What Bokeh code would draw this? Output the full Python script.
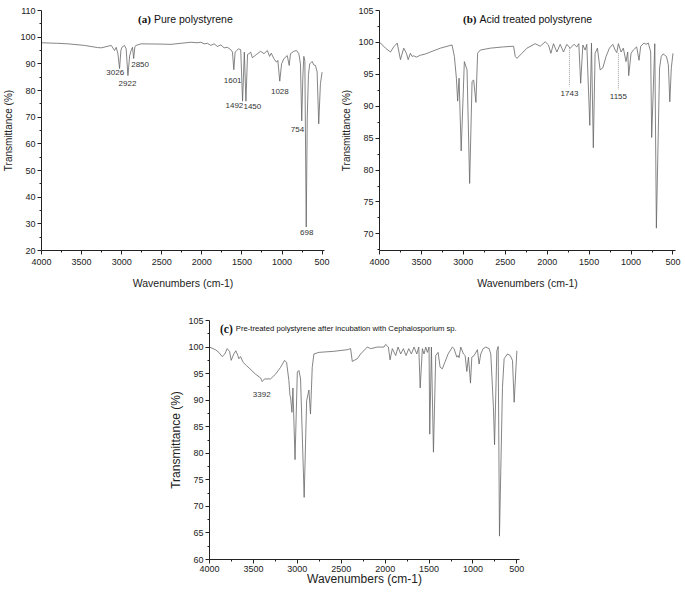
from bokeh.plotting import figure
from bokeh.layouts import row, column, Spacer
from bokeh.models import Range1d, FixedTicker
from bokeh.core.properties import value
from bokeh.embed import file_html
from bokeh.resources import INLINE

# ---------------- data ----------------
x_ticks = [4000, 3500, 3000, 2500, 2000, 1500, 1000, 500]
x_minor = [3750, 3250, 2750, 2250, 1750, 1250, 750]

# (a) Pure polystyrene
a_wn = [4000, 3800, 3668, 3462, 3300, 3255, 3130, 3089, 3068, 3047, 3026, 3010, 2997, 2965, 2944,
        2922, 2900, 2882, 2865, 2850, 2835, 2820, 2758, 2500, 2385, 2261, 2136, 2060, 2012, 1971,
        1929, 1888, 1847, 1805, 1764, 1722, 1681, 1639, 1618, 1601, 1585, 1544, 1515, 1492, 1470,
        1450, 1430, 1412, 1391, 1370, 1340, 1307, 1266, 1225, 1183, 1155, 1134, 1101, 1068, 1052,
        1028, 1005, 977, 935, 910, 894, 853, 819, 790, 770, 754, 740, 728, 715, 698, 685, 670, 654,
        624, 604, 583, 562, 542, 521, 500]
a_T = [97.9, 97.7, 97.5, 96.9, 96.1, 96.0, 96.9, 95.0, 96.2, 93.8, 88.2, 95.0, 96.2, 96.9, 95.6,
       85.6, 93.0, 95.0, 96.2, 92.0, 96.5, 96.9, 97.5, 97.4, 97.3, 97.7, 98.1, 97.9, 98.1, 97.5,
       97.7, 96.9, 97.5, 96.5, 97.1, 96.0, 96.2, 95.3, 94.4, 87.8, 94.4, 95.6, 95.3, 76.0, 94.4,
       76.0, 93.5, 93.8, 94.4, 92.3, 93.0, 93.8, 94.7, 93.8, 95.0, 92.8, 94.0, 91.9, 90.6, 91.3,
       83.5, 90.0, 91.9, 93.1, 89.4, 93.8, 94.7, 95.0, 93.8, 90.0, 68.6, 85.0, 92.8, 91.0, 28.8, 70.0, 86.0, 90.0,
       90.9, 89.6, 89.4, 87.0, 67.5, 82.5, 86.9]
a_labels = ["3026", "2922", "2850", "1601", "1492", "1450", "1028", "754", "698"]
a_lab_wn = [3080, 2927, 2770, 1616, 1594, 1370, 1027, 807, 692]
a_lab_T = [86.8, 82.7, 89.8, 83.6, 74.2, 74.1, 79.8, 65.5, 26.9]

# (b) Acid treated polystyrene
b_wn = [4000, 3988, 3929, 3869, 3830, 3789, 3750, 3711, 3679, 3658, 3631, 3610, 3592, 3560, 3512,
        3450, 3393, 3274, 3135, 3107, 3083, 3068, 3051, 3026, 2988, 2956, 2925, 2896, 2877, 2850,
        2830, 2798, 2679, 2520, 2401, 2381, 2361, 2301, 2242, 2143, 2083, 2024, 1985, 1956, 1925,
        1885, 1845, 1806, 1766, 1726, 1679, 1647, 1623, 1601, 1575, 1548, 1528, 1492, 1472, 1450,
        1429, 1401, 1369, 1337, 1298, 1258, 1218, 1190, 1170, 1151, 1119, 1092, 1060, 1040, 1028,
        1000, 973, 933, 905, 885, 845, 821, 794, 766, 754, 717, 698, 660, 640, 618, 598, 578, 555,
        538, 520, 500]
b_T = [100.0, 99.9, 99.1, 98.5, 99.3, 99.9, 97.3, 99.1, 98.3, 97.3, 98.3, 97.8, 97.9, 97.7, 98.0,
       98.2, 98.5, 99.1, 99.6, 97.8, 94.4, 90.8, 94.4, 83.0, 97.0, 95.7, 77.9, 93.9, 94.1, 90.6,
       98.3, 98.8, 99.1, 99.3, 99.4, 97.8, 97.5, 98.3, 99.1, 99.8, 99.4, 100.1, 99.6, 98.3, 99.8,
       98.5, 99.7, 98.5, 99.7, 99.1, 99.7, 99.3, 99.8, 93.6, 99.6, 98.8, 99.7, 87.0, 99.9, 83.5,
       98.3, 99.1, 95.7, 96.0, 97.8, 99.1, 99.7, 98.8, 98.4, 99.8, 98.5, 99.1, 97.0, 98.5, 94.8,
       98.3, 98.8, 99.3, 97.2, 99.4, 99.9, 99.7, 99.9, 98.5, 85.1, 99.8, 70.9, 96.0, 97.8, 98.2, 98.0, 97.8, 96.5,
       90.7, 96.0, 98.3]
b_marks = ["1743", "1155"]
b_mark_wn = [1735, 1151]
b_mark_top = [99.1, 98.3]
b_mark_bot = [93.1, 92.6]
b_lab_T = [92.0, 91.5]

# (c) Pre-treated polystyrene after incubation with Cephalosporium sp.
c_wn = [4000, 3932, 3894, 3856, 3825, 3799, 3772, 3753, 3723, 3700, 3677, 3666, 3647, 3616, 3578,
        3540, 3476, 3419, 3400, 3373, 3305, 3248, 3190, 3145, 3122, 3096, 3084, 3077, 3061, 3050,
        3026, 3000, 2982, 2963, 2922, 2894, 2868, 2850, 2830, 2811, 2754, 2583, 2431, 2393, 2374,
        2317, 2279, 2203, 2165, 2089, 2013, 1994, 1963, 1944, 1918, 1880, 1853, 1823, 1792, 1762,
        1731, 1701, 1671, 1640, 1617, 1601, 1576, 1557, 1538, 1519, 1500, 1492, 1473, 1450, 1424,
        1397, 1374, 1348, 1321, 1283, 1234, 1215, 1184, 1169, 1158, 1139, 1108, 1089, 1070, 1051,
        1028, 1013, 987, 949, 930, 911, 884, 854, 816, 797, 767, 754, 728, 713, 698, 664, 645, 607,
        576, 550, 531, 500]
c_T = [100.0, 99.5, 99.0, 98.2, 98.7, 99.7, 99.2, 97.5, 98.7, 99.3, 98.4, 97.8, 98.2, 97.1, 96.5,
       95.9, 94.9, 94.2, 93.5, 94.0, 94.0, 94.9, 96.2, 97.5, 97.1, 93.7, 90.9, 90.6, 87.7, 92.3,
       78.8, 95.3, 95.6, 94.0, 71.7, 89.9, 91.9, 87.4, 96.2, 98.7, 99.0, 99.2, 99.5, 99.7, 97.3,
       97.8, 98.7, 100.0, 99.7, 100.0, 100.0, 100.5, 100.0, 97.6, 99.7, 98.4, 100.0, 98.7, 99.7, 98.4,
       99.7, 98.7, 100.0, 98.7, 100.0, 92.3, 99.7, 98.7, 100.0, 99.0, 100.0, 83.6, 100.0, 80.2, 98.4,
       99.0, 96.2, 95.9, 97.1, 98.7, 100.0, 99.7, 98.1, 98.4, 98.0, 100.0, 98.7, 98.4, 95.4, 98.1,
       93.2, 98.1, 98.4, 99.5, 96.8, 98.7, 99.7, 100.0, 99.7, 98.7, 88.7, 81.6, 99.3, 100.1, 64.4, 92.4, 97.8, 98.7,
       98.4, 97.5, 89.6, 99.3]
c_labels = ["3392"]
c_lab_wn = [3405]
c_lab_T = [91.1]

LINE = "#666666"
SANS = "Liberation Sans"
SERIF = "Liberation Serif"


def make_fig(width, height, lb, rb, tb, bb, yr, yticks, yminor, tick_fs, xlab_fs, ylab_fs,
             lab_standoff_x, lab_standoff_y, tick_standoff_x):
    p = figure(width=width, height=height, x_range=Range1d(4000, 470), y_range=Range1d(*yr),
               output_backend="svg", toolbar_location=None,
               min_border_left=lb, min_border_right=rb, min_border_top=tb, min_border_bottom=bb)
    p.outline_line_color = None
    p.grid.visible = False
    p.xaxis.ticker = FixedTicker(ticks=x_ticks, minor_ticks=x_minor)
    p.yaxis.ticker = FixedTicker(ticks=yticks, minor_ticks=yminor)
    p.xaxis.axis_label = "Wavenumbers (cm-1)"
    p.yaxis.axis_label = "Transmittance (%)"
    for ax in (p.xaxis, p.yaxis):
        ax.axis_line_color = "#222222"
        ax.axis_line_width = 1
        ax.major_tick_line_color = "#222222"
        ax.minor_tick_line_color = "#222222"
        ax.major_tick_out = 4
        ax.major_tick_in = 0
        ax.minor_tick_out = 2
        ax.minor_tick_in = 0
        ax.major_label_text_font = SANS
        ax.major_label_text_font_size = tick_fs
        ax.major_label_text_color = "#222222"
        ax.major_label_standoff = 2
        ax.axis_label_text_font = SANS
        ax.axis_label_text_font_style = "normal"
        ax.axis_label_text_color = "#222222"
    p.xaxis.major_label_standoff = tick_standoff_x
    p.xaxis.axis_label_text_font_size = xlab_fs
    p.yaxis.axis_label_text_font_size = ylab_fs
    p.xaxis.axis_label_standoff = lab_standoff_x
    p.yaxis.axis_label_standoff = lab_standoff_y
    return p


def add_title(p, wn, T, tag, text, tag_fs, text_fs):
    p.text(x=[wn], y=[T], text=[tag], text_font=value(SERIF), text_font_style="bold",
           text_font_size=tag_fs, text_align="right", text_baseline="middle",
           text_color="#111111", x_offset=-2)
    p.text(x=[wn], y=[T], text=[text], text_font=value(SANS), text_font_size=text_fs,
           text_align="left", text_baseline="middle", text_color="#111111", x_offset=1)


# (a)
pa = make_fig(336, 300, 41, 12, 10, 50, (20, 110), list(range(20, 111, 10)),
              list(range(25, 110, 10)), "9px", "10.5px", "10px", 9, 3, 4)
pa.line(a_wn, a_T, line_color=LINE, line_width=0.8)
pa.text(x=a_lab_wn, y=a_lab_T, text=a_labels, text_font=value(SANS), text_font_size="8px",
        text_align="center", text_baseline="middle", text_color="#333333")
add_title(pa, 2610, 107, "(a)", "Pure polystyrene", "11px", "10.5px")

# (b)
pb = make_fig(349, 300, 43, 10, 10, 48, (67.4, 105), list(range(70, 106, 5)),
              [67.5 + 5 * i for i in range(8)], "9px", "10.5px", "10px", 9, 3, 4)
pb.line(b_wn, b_T, line_color=LINE, line_width=0.8)
pb.segment(x0=b_mark_wn, y0=b_mark_top, x1=b_mark_wn, y1=b_mark_bot, line_color="#888888",
           line_width=0.8, line_dash="1 1")
pb.text(x=b_mark_wn, y=b_lab_T, text=b_marks, text_font=value(SANS), text_font_size="8px",
        text_align="center", text_baseline="middle", text_color="#333333")
add_title(pb, 2820, 103.7, "(b)", "Acid treated polystyrene", "11px", "10.5px")

# (c)
pc = make_fig(364, 299, 44, 10, 20, 40, (60, 105), list(range(60, 106, 5)),
              [62.5 + 5 * i for i in range(9)], "9px", "12px", "12px", -3, 2, 2)
pc.line(c_wn, c_T, line_color=LINE, line_width=0.8)
pc.text(x=c_lab_wn, y=c_lab_T, text=c_labels, text_font=value(SANS), text_font_size="8px",
        text_align="center", text_baseline="middle", text_color="#333333")
add_title(pc, 3712, 103.4, "(c)", "Pre-treated polystyrene after incubation with Cephalosporium sp.",
          "11.5px", "7.7px")

layout = column(row(pa, pb), row(Spacer(width=165, height=299), pc))

open("out.html", "w").write(file_html(layout, INLINE))
